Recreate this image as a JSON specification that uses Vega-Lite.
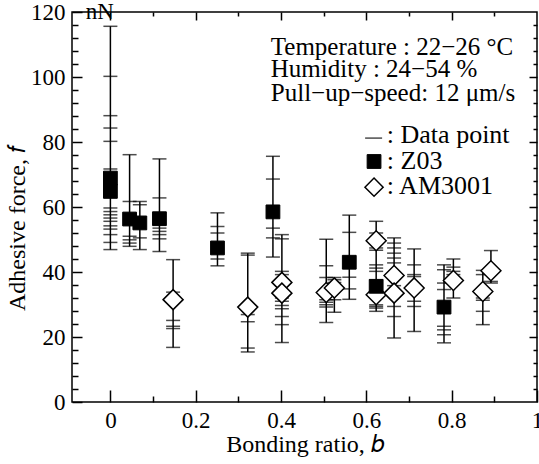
{
  "$schema": "https://vega.github.io/schema/vega-lite/v6.json",
  "width": 465,
  "height": 390,
  "autosize": "none",
  "padding": {"left": 72, "top": 12, "right": 2, "bottom": 62},
  "background": "white",
  "config": {
    "font": "Liberation Serif",
    "view": {"stroke": "black", "strokeWidth": 1.5},
    "axis": {
      "domain": false, "grid": false,
      "tickColor": "black", "tickWidth": 1.5,
      "labelColor": "black", "titleColor": "black",
      "labelFont": "Liberation Serif", "titleFont": "Liberation Serif",
      "labelFontSize": 23, "titleFontSize": 24, "titleFontWeight": "normal"
    }
  },
  "datasets": {
    "rules": [
      {"b": 0, "lo": 46.9, "hi": 115.6},
      {"b": 0.045, "lo": 47.9, "hi": 76.1},
      {"b": 0.069, "lo": 46.9, "hi": 61.7},
      {"b": 0.115, "lo": 46.3, "hi": 74.8},
      {"b": 0.147, "lo": 16.8, "hi": 43.8},
      {"b": 0.251, "lo": 41.9, "hi": 58.2},
      {"b": 0.322, "lo": 15.4, "hi": 45.8},
      {"b": 0.381, "lo": 44.6, "hi": 75.6},
      {"b": 0.402, "lo": 18.3, "hi": 51.5},
      {"b": 0.506, "lo": 24.5, "hi": 50.1},
      {"b": 0.525, "lo": 27.6, "hi": 38.3},
      {"b": 0.56, "lo": 31.6, "hi": 57.5},
      {"b": 0.623, "lo": 27.9, "hi": 55.6},
      {"b": 0.665, "lo": 19.7, "hi": 50.5},
      {"b": 0.712, "lo": 21.7, "hi": 47.1},
      {"b": 0.782, "lo": 18.2, "hi": 42.2},
      {"b": 0.804, "lo": 32.0, "hi": 44.0},
      {"b": 0.873, "lo": 23.8, "hi": 40.5},
      {"b": 0.892, "lo": 36.6, "hi": 46.6}
    ],
    "obs": [
      {"b": 0, "f": 115.6}, {"b": 0, "f": 100.2}, {"b": 0, "f": 88.1}, {"b": 0, "f": 84.3}, {"b": 0, "f": 80.2}, {"b": 0, "f": 71.7}, {"b": 0, "f": 59.7}, {"b": 0, "f": 58.6}, {"b": 0, "f": 57.6}, {"b": 0, "f": 56.6}, {"b": 0, "f": 55.6}, {"b": 0, "f": 54.2}, {"b": 0, "f": 53.2}, {"b": 0, "f": 51.5}, {"b": 0, "f": 49.1}, {"b": 0, "f": 46.9},
      {"b": 0.045, "f": 76.1}, {"b": 0.045, "f": 61.7}, {"b": 0.045, "f": 51.0}, {"b": 0.045, "f": 49.9}, {"b": 0.045, "f": 48.9}, {"b": 0.045, "f": 47.9},
      {"b": 0.069, "f": 61.7}, {"b": 0.069, "f": 60.7}, {"b": 0.069, "f": 50.5}, {"b": 0.069, "f": 46.9},
      {"b": 0.115, "f": 74.8}, {"b": 0.115, "f": 62.8}, {"b": 0.115, "f": 53.5}, {"b": 0.115, "f": 52.5}, {"b": 0.115, "f": 51.5}, {"b": 0.115, "f": 50.2}, {"b": 0.115, "f": 46.3},
      {"b": 0.147, "f": 43.8}, {"b": 0.147, "f": 33.8}, {"b": 0.147, "f": 25.1}, {"b": 0.147, "f": 23.3}, {"b": 0.147, "f": 22.6}, {"b": 0.147, "f": 16.8},
      {"b": 0.251, "f": 58.2}, {"b": 0.251, "f": 54.0}, {"b": 0.251, "f": 52.0}, {"b": 0.251, "f": 44.0}, {"b": 0.251, "f": 41.9},
      {"b": 0.322, "f": 45.8}, {"b": 0.322, "f": 45.2}, {"b": 0.322, "f": 26.9}, {"b": 0.322, "f": 24.7}, {"b": 0.322, "f": 16.6}, {"b": 0.322, "f": 15.4},
      {"b": 0.381, "f": 75.6}, {"b": 0.381, "f": 68.6}, {"b": 0.381, "f": 53.5}, {"b": 0.381, "f": 50.5}, {"b": 0.381, "f": 44.6},
      {"b": 0.402, "f": 51.5}, {"b": 0.402, "f": 50.2}, {"b": 0.402, "f": 40.2}, {"b": 0.402, "f": 39.2}, {"b": 0.402, "f": 33.0}, {"b": 0.402, "f": 32.0}, {"b": 0.402, "f": 31.0}, {"b": 0.402, "f": 29.7}, {"b": 0.402, "f": 28.7}, {"b": 0.402, "f": 26.3}, {"b": 0.402, "f": 23.8}, {"b": 0.402, "f": 18.3},
      {"b": 0.506, "f": 50.1}, {"b": 0.506, "f": 41.9}, {"b": 0.506, "f": 38.3}, {"b": 0.506, "f": 31.5}, {"b": 0.506, "f": 30.7}, {"b": 0.506, "f": 29.9}, {"b": 0.506, "f": 29.2}, {"b": 0.506, "f": 24.5},
      {"b": 0.525, "f": 38.3}, {"b": 0.525, "f": 37.6}, {"b": 0.525, "f": 36.8}, {"b": 0.525, "f": 31.5}, {"b": 0.525, "f": 27.6},
      {"b": 0.56, "f": 57.5}, {"b": 0.56, "f": 52.2}, {"b": 0.56, "f": 38.4}, {"b": 0.56, "f": 34.8}, {"b": 0.56, "f": 31.6},
      {"b": 0.623, "f": 55.6}, {"b": 0.623, "f": 52.0}, {"b": 0.623, "f": 47.4}, {"b": 0.623, "f": 46.7}, {"b": 0.623, "f": 42.2}, {"b": 0.623, "f": 41.2}, {"b": 0.623, "f": 40.2}, {"b": 0.623, "f": 37.6}, {"b": 0.623, "f": 29.9}, {"b": 0.623, "f": 29.4}, {"b": 0.623, "f": 28.9}, {"b": 0.623, "f": 27.9},
      {"b": 0.665, "f": 50.5}, {"b": 0.665, "f": 48.9}, {"b": 0.665, "f": 47.4}, {"b": 0.665, "f": 45.8}, {"b": 0.665, "f": 44.3}, {"b": 0.665, "f": 42.8}, {"b": 0.665, "f": 35.8}, {"b": 0.665, "f": 29.4}, {"b": 0.665, "f": 26.3}, {"b": 0.665, "f": 19.7},
      {"b": 0.712, "f": 47.1}, {"b": 0.712, "f": 42.2}, {"b": 0.712, "f": 39.2}, {"b": 0.712, "f": 38.6}, {"b": 0.712, "f": 31.0}, {"b": 0.712, "f": 29.4}, {"b": 0.712, "f": 21.7},
      {"b": 0.782, "f": 42.2}, {"b": 0.782, "f": 40.7}, {"b": 0.782, "f": 36.6}, {"b": 0.782, "f": 34.6}, {"b": 0.782, "f": 23.3}, {"b": 0.782, "f": 22.2}, {"b": 0.782, "f": 20.7}, {"b": 0.782, "f": 18.2},
      {"b": 0.804, "f": 44.0}, {"b": 0.804, "f": 41.5}, {"b": 0.804, "f": 40.2}, {"b": 0.804, "f": 39.2}, {"b": 0.804, "f": 32.0},
      {"b": 0.873, "f": 40.5}, {"b": 0.873, "f": 39.2}, {"b": 0.873, "f": 32.0}, {"b": 0.873, "f": 31.3}, {"b": 0.873, "f": 27.9}, {"b": 0.873, "f": 23.8},
      {"b": 0.892, "f": 46.6}, {"b": 0.892, "f": 37.1}, {"b": 0.892, "f": 36.6}
    ],
    "z03": [
      {"b": 0, "f": 68.9}, {"b": 0, "f": 64.8},
      {"b": 0.045, "f": 56.3}, {"b": 0.069, "f": 55.1},
      {"b": 0.115, "f": 56.4}, {"b": 0.251, "f": 47.4},
      {"b": 0.381, "f": 58.5}, {"b": 0.56, "f": 43.0},
      {"b": 0.782, "f": 29.2}
    ],
    "am3001": [
      {"b": 0.147, "f": 31.5}, {"b": 0.322, "f": 29.2},
      {"b": 0.402, "f": 36.8}, {"b": 0.402, "f": 33.5},
      {"b": 0.506, "f": 33.7}, {"b": 0.525, "f": 35.1},
      {"b": 0.623, "f": 49.6}, {"b": 0.623, "f": 33.0},
      {"b": 0.665, "f": 38.9}, {"b": 0.665, "f": 33.5},
      {"b": 0.712, "f": 35.1}, {"b": 0.804, "f": 37.4},
      {"b": 0.873, "f": 34.0}, {"b": 0.892, "f": 40.4}
    ],
    "z03late": [
      {"b": 0.623, "f": 35.6}
    ],
    "legDash": [{"b": 0.617, "f": 81.2}],
    "legSquare": [{"b": 0.618, "f": 74.0}],
    "legDiamond": [{"b": 0.618, "f": 66.1}],
    "notes": [
      {"b": 0.376, "f": 106.9, "text": "Temperature : 22−26 °C"},
      {"b": 0.376, "f": 99.9, "text": "Humidity : 24−54 %"},
      {"b": 0.376, "f": 92.7, "text": "Pull−up−speed: 12 μm/s"}
    ],
    "legendText": [
      {"b": 0.648, "f": 79.6, "text": ": Data point"},
      {"b": 0.648, "f": 71.8, "text": ": Z03"},
      {"b": 0.648, "f": 63.9, "text": ": AM3001"}
    ],
    "unit": [
      {"b": -0.025, "f": 120.1, "text": "nN"}
    ]
  },
  "resolve": {"axis": {"x": "independent", "y": "independent"}},
  "layer": [
    {
      "data": {"name": "rules"},
      "mark": {"type": "rule", "color": "black", "strokeWidth": 1.5},
      "encoding": {
        "x": {"field": "b", "type": "quantitative",
              "scale": {"domain": [-0.09, 1.0], "nice": false, "zero": false},
              "axis": {"orient": "bottom", "values": [0, 0.2, 0.4, 0.6, 0.8, 1], "format": "~g", "tickSize": -12, "labelPadding": 19, "title": "Bonding ratio, 𝑏", "titlePadding": 0, "labelFlush": false}},
        "y": {"field": "lo", "type": "quantitative",
              "scale": {"domain": [0, 120], "nice": false, "zero": false},
              "axis": {"orient": "left", "values": [0, 20, 40, 60, 80, 100, 120], "format": "d", "tickSize": -10, "labelPadding": 17, "title": "Adhesive force, 𝑓", "titleFontSize": 24, "titlePadding": 1, "titleY": 216, "labelFlush": false}},
        "y2": {"field": "hi"}
      }
    },
    {
      "data": {"name": "obs"},
      "mark": {"type": "tick", "orient": "horizontal", "color": "black", "size": 14, "thickness": 1.5},
      "encoding": {
        "x": {"field": "b", "type": "quantitative",
              "scale": {"domain": [-0.09, 1.0], "nice": false, "zero": false},
              "axis": {"orient": "top", "values": [0, 0.2, 0.4, 0.6, 0.8], "tickSize": -8, "labels": false, "title": null}},
        "y": {"field": "f", "type": "quantitative",
              "scale": {"domain": [0, 120], "nice": false, "zero": false},
              "axis": {"orient": "right", "values": [20, 40, 60, 80, 100], "tickSize": -8, "labels": false, "title": null}}
      }
    },
    {
      "data": {"name": "am3001"},
      "mark": {"type": "point", "shape": "diamond", "size": 400, "filled": true, "fill": "white", "stroke": "black", "strokeWidth": 1.5, "opacity": 1},
      "encoding": {
        "x": {"field": "b", "type": "quantitative",
              "scale": {"domain": [-0.09, 1.0], "nice": false, "zero": false},
              "axis": {"orient": "bottom", "values": [0.1, 0.3, 0.5, 0.7, 0.9], "tickSize": -6, "labels": false, "title": null}},
        "y": {"field": "f", "type": "quantitative",
              "scale": {"domain": [0, 120], "nice": false, "zero": false},
              "axis": {"orient": "left", "values": [4, 8, 12, 16, 24, 28, 32, 36, 44, 48, 52, 56, 64, 68, 72, 76, 84, 88, 92, 96, 104, 108, 112, 116], "tickSize": -6, "labels": false, "title": null}}
      }
    },
    {
      "data": {"name": "z03"},
      "mark": {"type": "point", "shape": "square", "size": 190, "filled": true, "fill": "black", "stroke": "black", "strokeWidth": 1, "opacity": 1},
      "encoding": {
        "x": {"field": "b", "type": "quantitative",
              "scale": {"domain": [-0.09, 1.0], "nice": false, "zero": false},
              "axis": {"orient": "top", "values": [0.1, 0.3, 0.5, 0.7, 0.9], "tickSize": -4, "labels": false, "title": null}},
        "y": {"field": "f", "type": "quantitative",
              "scale": {"domain": [0, 120], "nice": false, "zero": false},
              "axis": {"orient": "right", "values": [4, 8, 12, 16, 24, 28, 32, 36, 44, 48, 52, 56, 64, 68, 72, 76, 84, 88, 92, 96, 104, 108, 112, 116], "tickSize": -4, "labels": false, "title": null}}
      }
    },
    {
      "data": {"name": "z03late"},
      "mark": {"type": "point", "shape": "square", "size": 190, "filled": true, "fill": "black", "stroke": "black", "strokeWidth": 1, "opacity": 1},
      "encoding": {
        "x": {"field": "b", "type": "quantitative", "scale": {"domain": [-0.09, 1.0], "nice": false, "zero": false}, "axis": null},
        "y": {"field": "f", "type": "quantitative", "scale": {"domain": [0, 120], "nice": false, "zero": false}, "axis": null}
      }
    },
    {
      "data": {"name": "legDash"},
      "mark": {"type": "tick", "orient": "horizontal", "color": "black", "size": 17, "thickness": 1.5},
      "encoding": {
        "x": {"field": "b", "type": "quantitative", "scale": {"domain": [-0.09, 1.0], "nice": false, "zero": false}, "axis": null},
        "y": {"field": "f", "type": "quantitative", "scale": {"domain": [0, 120], "nice": false, "zero": false}, "axis": null}
      }
    },
    {
      "data": {"name": "legSquare"},
      "mark": {"type": "point", "shape": "square", "size": 190, "filled": true, "fill": "black", "stroke": "black", "strokeWidth": 1, "opacity": 1},
      "encoding": {
        "x": {"field": "b", "type": "quantitative", "scale": {"domain": [-0.09, 1.0], "nice": false, "zero": false}, "axis": null},
        "y": {"field": "f", "type": "quantitative", "scale": {"domain": [0, 120], "nice": false, "zero": false}, "axis": null}
      }
    },
    {
      "data": {"name": "legDiamond"},
      "mark": {"type": "point", "shape": "diamond", "size": 330, "filled": true, "fill": "white", "stroke": "black", "strokeWidth": 1.5, "opacity": 1},
      "encoding": {
        "x": {"field": "b", "type": "quantitative", "scale": {"domain": [-0.09, 1.0], "nice": false, "zero": false}, "axis": null},
        "y": {"field": "f", "type": "quantitative", "scale": {"domain": [0, 120], "nice": false, "zero": false}, "axis": null}
      }
    },
    {
      "data": {"name": "notes"},
      "mark": {"type": "text", "align": "left", "baseline": "alphabetic", "fontSize": 25, "font": "Liberation Serif", "color": "black"},
      "encoding": {
        "x": {"field": "b", "type": "quantitative", "scale": {"domain": [-0.09, 1.0], "nice": false, "zero": false}, "axis": null},
        "y": {"field": "f", "type": "quantitative", "scale": {"domain": [0, 120], "nice": false, "zero": false}, "axis": null},
        "text": {"field": "text", "type": "nominal"}
      }
    },
    {
      "data": {"name": "legendText"},
      "mark": {"type": "text", "align": "left", "baseline": "alphabetic", "fontSize": 26, "font": "Liberation Serif", "color": "black"},
      "encoding": {
        "x": {"field": "b", "type": "quantitative", "scale": {"domain": [-0.09, 1.0], "nice": false, "zero": false}, "axis": null},
        "y": {"field": "f", "type": "quantitative", "scale": {"domain": [0, 120], "nice": false, "zero": false}, "axis": null},
        "text": {"field": "text", "type": "nominal"}
      }
    },
    {
      "data": {"name": "unit"},
      "mark": {"type": "text", "align": "center", "baseline": "middle", "fontSize": 23, "font": "Liberation Serif", "color": "black"},
      "encoding": {
        "x": {"field": "b", "type": "quantitative", "scale": {"domain": [-0.09, 1.0], "nice": false, "zero": false}, "axis": null},
        "y": {"field": "f", "type": "quantitative", "scale": {"domain": [0, 120], "nice": false, "zero": false}, "axis": null},
        "text": {"field": "text", "type": "nominal"}
      }
    }
  ]
}
